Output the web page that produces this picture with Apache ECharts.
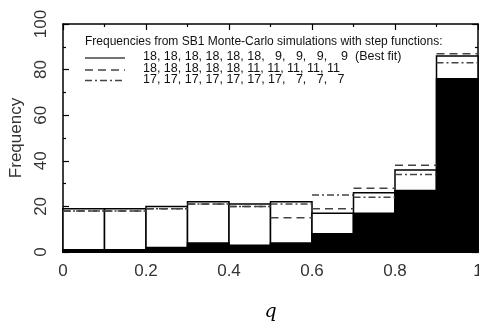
<!DOCTYPE html>
<html>
<head>
<meta charset="utf-8">
<script src="https://cdn.jsdelivr.net/npm/echarts@6/dist/echarts.min.js"></script>
<style>
  html, body { margin: 0; padding: 0; background: #fff; }
  #chart { width: 479px; height: 322px; }
</style>
</head>
<body>
<div id="chart"></div>
<script>
// histogram bins of q
const binStart = [0, 0.1, 0.2, 0.3, 0.4, 0.5, 0.6, 0.7, 0.8, 0.9]
const binEnd = [0.1, 0.2, 0.3, 0.4, 0.5, 0.6, 0.7, 0.8, 0.9, 1.0]
// black filled bars
const observed = [1, 1, 2, 4, 3, 4, 8, 17, 27, 76]
// step functions
const bestFit = [19, 19, 20, 22, 21, 22, 17, 26, 36, 86]
const dashedStep = [18, 18, 19, 21, 20, 15, 19, 28, 38, 87]
const dashDotStep = [18, 18, 19, 21, 20, 21, 25, 24, 34, 83]

const xTicks = [0, 0.2, 0.4, 0.6, 0.8, 1]
const yTicks = [0, 20, 40, 60, 80, 100]

const legendTitle = 'Frequencies from SB1 Monte-Carlo simulations with step functions:'
const fs = '\u2007'
const legendRows = [
  '18, 18, 18, 18, 18, 18, ' + fs + '9, ' + fs + '9, ' + fs + '9, ' + fs + ' 9  (Best fit)',
  '18, 18, 18, 18, 18, 11, 11, 11, 11, 11',
  '17, 17, 17, 17, 17, 17, 17, ' + fs + '7, ' + fs + '7, ' + fs + '7'
]

const rows = (vals) => binStart.map((s, i) => [s, binEnd[i], vals[i]])

function barItem(fill) {
  return function (params, api) {
    const a = api.coord([api.value(0), api.value(2)])
    const b = api.coord([api.value(1), 0])
    return {
      type: 'rect',
      shape: { x: a[0], y: a[1], width: b[0] - a[0], height: b[1] - a[1] },
      style: { fill: fill, stroke: '#000', lineWidth: 1.5 }
    }
  }
}

function stepItem(dash) {
  return function (params, api) {
    const a = api.coord([api.value(0), api.value(2)])
    const b = api.coord([api.value(1), api.value(2)])
    return {
      type: 'line',
      shape: { x1: a[0], y1: a[1], x2: b[0], y2: b[1] },
      style: { stroke: '#444', lineWidth: 1.5, lineDash: dash, fill: null }
    }
  }
}

const font = 'Liberation Sans'
const tickFont = { fontFamily: font, fontSize: 17, color: '#333' }

const baseX = {
  type: 'value', min: 0, max: 1, interval: 0.2,
  axisLine: { show: true, onZero: false, lineStyle: { color: '#000', width: 1.5 } },
  axisTick: { show: true, inside: true, length: 6, lineStyle: { color: '#000', width: 1.2 } },
  minorTick: { show: true, splitNumber: 2, length: 3, lineStyle: { color: '#000', width: 1.2 } },
  splitLine: { show: false }
}
const baseY = {
  type: 'value', min: 0, max: 100, interval: 20,
  axisLine: { show: true, onZero: false, lineStyle: { color: '#000', width: 1.5 } },
  axisTick: { show: true, inside: true, length: 6, lineStyle: { color: '#000', width: 1.2 } },
  minorTick: { show: true, splitNumber: 2, length: 3, lineStyle: { color: '#000', width: 1.2 } },
  splitLine: { show: false }
}

const titleText = { fontFamily: font, fontSize: 12, fill: '#111' }
const rowText = { fontFamily: font, fontSize: 12.5, fill: '#111' }
const graphic = [
  { type: 'text', left: 85, top: 36, style: Object.assign({ text: legendTitle }, titleText) },
  { type: 'text', left: 143, top: 50, style: Object.assign({ text: legendRows[0] }, rowText) },
  { type: 'text', left: 143, top: 62, style: Object.assign({ text: legendRows[1] }, rowText) },
  { type: 'text', left: 143, top: 73.5, style: Object.assign({ text: legendRows[2] }, rowText) },
  { type: 'line', shape: { x1: 85, y1: 58, x2: 125, y2: 58 }, style: { stroke: '#444', lineWidth: 1.5 } },
  { type: 'line', shape: { x1: 85, y1: 70, x2: 125, y2: 70 }, style: { stroke: '#444', lineWidth: 1.5, lineDash: [8, 5] } },
  { type: 'line', shape: { x1: 85, y1: 80.5, x2: 125, y2: 80.5 }, style: { stroke: '#444', lineWidth: 1.5, lineDash: [7, 3, 2, 3] } }
]

const option = {
  animation: false,
  backgroundColor: '#fff',
  grid: { left: 63, right: 1, top: 24, bottom: 70, containLabel: false, outerBoundsMode: 'none' },
  xAxis: [
    Object.assign({}, baseX, {
      position: 'bottom',
      name: 'q', nameLocation: 'middle', nameGap: 51,
      nameTextStyle: { fontFamily: 'DejaVu Serif', fontStyle: 'italic', fontSize: 19, color: '#000' },
      axisLabel: Object.assign({ margin: 11, formatter: v => xTicks.includes(+v.toFixed(1)) ? String(+v.toFixed(1)) : '' }, tickFont)
    }),
    Object.assign({}, baseX, { position: 'top', axisLabel: { show: false } })
  ],
  yAxis: [
    Object.assign({}, baseY, {
      position: 'left',
      name: 'Frequency', nameLocation: 'middle', nameGap: 37, nameRotate: 90,
      nameTextStyle: { fontFamily: font, fontSize: 17, color: '#333' },
      axisLabel: Object.assign({ rotate: 90, margin: 13, formatter: v => yTicks.includes(v) ? String(v) : '' }, tickFont)
    }),
    Object.assign({}, baseY, { position: 'right', axisLabel: { show: false } })
  ],
  graphic: graphic,
  series: [
    { type: 'custom', renderItem: barItem('#fff'), data: rows(bestFit), encode: { x: [0, 1], y: 2 }, z: 1 },
    { type: 'custom', renderItem: barItem('#000'), data: rows(observed), encode: { x: [0, 1], y: 2 }, z: 2 },
    { type: 'custom', renderItem: stepItem([8, 5]), data: rows(dashedStep), encode: { x: [0, 1], y: 2 }, z: 3 },
    { type: 'custom', renderItem: stepItem([7, 3, 2, 3]), data: rows(dashDotStep), encode: { x: [0, 1], y: 2 }, z: 3 }
  ]
}

const chart = echarts.init(document.getElementById('chart'))
chart.setOption(option)
</script>
</body>
</html>
